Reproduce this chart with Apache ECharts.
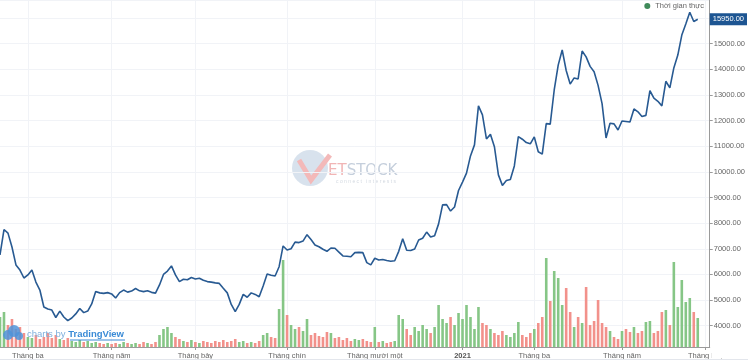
<!DOCTYPE html>
<html><head><meta charset="utf-8">
<script src="https://cdn.jsdelivr.net/npm/echarts@6/dist/echarts.min.js"></script>
<style>html,body{margin:0;padding:0;background:#fff}#c{width:748px;height:361px}</style>
</head><body><div id="c"></div>
<script>
const price = [
6760,7750,7610,7070,6370,6170,5860,5980,6170,5700,
5390,4730,4650,4610,4320,4570,4340,4200,4300,4460,
4670,4510,4570,4850,5330,5280,5260,5290,5240,5080,
5290,5390,5310,5350,5450,5360,5330,5360,5300,5270,
5590,6000,6130,6330,5980,5720,5810,5790,5880,5820,
5850,5770,5720,5700,5670,5650,5460,5280,4830,4550,
4830,5220,5110,5280,5220,5130,5550,6020,5970,5940,
6300,7110,6950,7000,7260,7240,7300,7550,7360,7150,
7080,6980,6900,7030,7020,6870,6720,6710,6690,6850,
6860,6850,6460,6370,6630,6560,6580,6540,6510,6530,
6900,7390,6940,6930,6990,7340,7410,7650,7460,7510,
7970,8710,8720,8470,8630,9270,9600,9950,10620,11050,
12570,12220,11280,11460,10980,9880,9470,9660,9700,10230,
11370,11270,11140,11090,11360,10780,10690,11880,11860,13190,
14160,14750,13950,13420,13660,13620,14710,14480,14110,13900,
13370,12660,11320,11890,11870,11630,11980,11960,11940,12450,
12340,12160,12200,13160,12870,12750,12570,13530,13270,14050,
14550,15330,15760,16220,15860,15950
];
const volume = [
3000,3500,2200,2800,1800,2000,1400,1000,900,1200,
800,1000,1400,900,1200,800,700,900,600,500,
700,500,600,400,500,400,300,400,300,400,
300,500,400,300,400,300,500,400,300,500,
1200,1800,2000,1400,1000,800,600,500,700,500,
400,600,500,400,600,500,700,500,600,800,
500,600,400,500,400,600,1200,1400,1000,900,
3800,8700,3200,2200,1800,2000,1600,2800,1200,1400,
1100,1000,1500,1400,900,1000,700,900,600,800,
700,800,600,500,2000,500,600,400,500,600,
3200,2800,1800,1200,2000,1600,2200,1800,1400,2000,
4200,2800,2400,3000,2200,3400,2800,4200,3000,1800,
4000,2400,2200,1800,1400,1200,1600,1200,1000,1400,
2500,1200,1000,1400,1800,2400,3000,8900,4600,7600,
6900,4200,5900,3500,2000,3000,2400,6000,2200,2600,
4700,2400,2000,1600,1000,800,1600,1800,1500,2000,
1400,1600,2500,2600,1400,1600,3500,3700,2200,8500,
4000,6700,4500,4900,3500,2900
];
const tickIndex = [7, 28, 49, 72, 94, 116, 134, 156, 177];
const tickText = ['Tháng ba','Tháng năm','Tháng bảy','Tháng chín','Tháng mười một','2021','Tháng ba','Tháng năm','Tháng bảy'];
const lastPrice = 15950;
const seriesName = 'Thời gian thực';
const N = 179;
const categories = Array.from({length: N}, (_, i) => String(i));

const FONT = 'Liberation Sans';
const isTick = (i) => tickIndex.indexOf(i) >= 0;

const chart = echarts.init(document.getElementById('c'), null, {renderer: 'canvas'});
chart.setOption({
  animation: false,
  backgroundColor: '#ffffff',
  textStyle: {fontFamily: FONT},
  grid: {left: 0, right: 37, top: 0, bottom: 14, containLabel: false},
  legend: {
    data: [{name: seriesName, icon: 'circle', itemStyle: {color: '#3f8a5a'}}],
    right: 44, top: 0, itemWidth: 6, itemHeight: 6, itemGap: 4, padding: [2, 0, 0, 0],
    textStyle: {fontSize: 7.5, color: '#666', fontFamily: FONT},
    selectedMode: false
  },
  xAxis: {
    type: 'category', data: categories, boundaryGap: false,
    axisLine: {show: true, lineStyle: {color: '#9a9a9a', width: 1}},
    axisTick: {show: true, interval: (i) => isTick(i), length: 3, lineStyle: {color: '#9a9a9a'}},
    axisLabel: {
      interval: (i) => isTick(i), margin: 5, fontSize: 7.5, color: '#666', fontFamily: FONT,
      formatter: (v, i) => {
        const k = tickIndex.indexOf(i);
        if (k < 0) return '';
        return tickText[k] === '2021' ? '{b|2021}' : tickText[k];
      },
      rich: {b: {fontWeight: 'bold', fontSize: 7.5, color: '#555', fontFamily: FONT}}
    },
    splitLine: {show: true, interval: (i) => isTick(i), lineStyle: {color: '#f1f3f7', width: 1}}
  },
  yAxis: [{
    type: 'value', position: 'right', min: 3170, max: 16698, splitNumber: 13, scale: true,
    axisLine: {show: true, lineStyle: {color: '#9a9a9a', width: 1}},
    axisTick: {show: true, length: 3, lineStyle: {color: '#9a9a9a'}},
    axisLabel: {
      showMinLabel: false, showMaxLabel: false, margin: 4, fontSize: 7.5, color: '#666', fontFamily: FONT,
      formatter: (v) => (v > 15500 ? '' : v.toFixed(2))
    },
    splitLine: {show: true, lineStyle: {color: '#f1f3f7', width: 1}}
  }, {
    type: 'value', min: 0, max: 34700, show: false
  }],
  series: [{
    name: 'Khối lượng', type: 'bar', yAxisIndex: 1, data: volume, barWidth: 2.6, z: 1,
    itemStyle: {
      color: (p) => {
        const i = p.dataIndex;
        return (i === 0 || price[i] >= price[i - 1]) ? '#86c686' : '#f2918b';
      }
    }
  }, {
    name: seriesName, type: 'line', data: price, showSymbol: false, symbol: 'none', z: 3,
    lineStyle: {color: '#285a92', width: 1.6}, itemStyle: {color: '#285a92'},
    markLine: {
      silent: true, symbol: ['none', 'none'],
      lineStyle: {color: 'rgba(0,0,0,0)', width: 0, type: 'solid'},
      data: [{yAxis: lastPrice}],
      label: {
        show: true, position: 'end', distance: 0, formatter: lastPrice.toFixed(2),
        backgroundColor: '#1d5592', color: '#ffffff', fontSize: 7.5, fontFamily: FONT,
        padding: [2, 3, 2, 3]
      }
    }
  }],
  graphic: [
    {type: 'circle', shape: {cx: 310, cy: 168, r: 18}, style: {fill: '#c8d5e6', opacity: 0.7}, z: 0, silent: true},
    {type: 'polyline', shape: {points: [[299, 160], [311, 180], [330, 155]]}, style: {stroke: '#f3b9b9', lineWidth: 5, fill: null}, z: 0, silent: true},
    {type: 'text', x: 328, y: 171, style: {
      text: '{p|ET}{g|STOCK}', verticalAlign: 'middle',
      rich: {p: {fill: '#f1b5b5', fontSize: 15, fontFamily: 'DejaVu Sans'}, g: {fill: '#c5cfdc', fontSize: 15, fontFamily: 'DejaVu Sans'}}
    }, z: 0, silent: true},
    {type: 'text', x: 336, y: 182, style: {text: 'c o n n e c t   i n t e r e s t s', fill: '#d3d9e1', fontSize: 5, verticalAlign: 'middle', fontFamily: FONT}, z: 0, silent: true},
    {type: 'circle', shape: {cx: 8, cy: 335, r: 5}, style: {fill: '#4f93d8', opacity: 0.85}, z: 50, silent: true},
    {type: 'circle', shape: {cx: 14, cy: 331, r: 6}, style: {fill: '#4f93d8', opacity: 0.85}, z: 50, silent: true},
    {type: 'circle', shape: {cx: 19, cy: 336, r: 4}, style: {fill: '#4f93d8', opacity: 0.85}, z: 50, silent: true},
    {type: 'text', x: 27, y: 334, style: {
      text: '{a|charts by }{b|TradingView}', verticalAlign: 'middle',
      rich: {a: {fill: '#7fb0dd', fontSize: 9.5, fontFamily: FONT}, b: {fill: '#3a8bd6', fontSize: 9.5, fontWeight: 'bold', fontFamily: FONT}}
    }, z: 50, silent: true},
    {type: 'line', shape: {x1: 70, y1: 340, x2: 125, y2: 340}, style: {stroke: '#3a8bd6', lineWidth: 1}, z: 50, silent: true},
    {type: 'rect', shape: {x: 711.5, y: 348.5, width: 37, height: 10}, style: {fill: '#ffffff'}, z: 100, silent: true},
    {type: 'line', shape: {x1: 0, y1: 359.5, x2: 748, y2: 359.5}, style: {stroke: '#e3e6ec', lineWidth: 1}, z: 100, silent: true}
  ]
});
</script>
</body></html>
